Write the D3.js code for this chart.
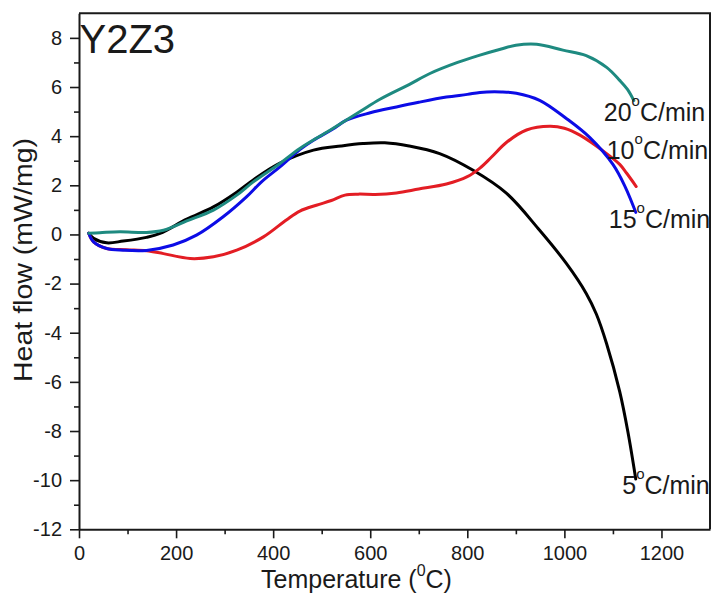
<!DOCTYPE html>
<html>
<head>
<meta charset="utf-8">
<script src="https://cdn.jsdelivr.net/npm/d3@7"></script>
<style>
  body { margin: 0; background: #fff; }
  svg { display: block; }
  text { font-family: "Liberation Sans", Arial, Helvetica, sans-serif; fill: #1a1a1a; }
</style>
</head>
<body>
<svg id="chart" width="712" height="597"></svg>
<script>
// DSC heat flow of Y2Z3 at four heating rates: [temperature °C, heat flow mW/mg]
const heat5 = [
  [20, 0.05], [30, -0.16], [57, -0.34], [91, -0.27], [139, -0.12], [167, 0.04],
  [222, 0.62], [277, 1.12], [325, 1.72], [359, 2.22], [414, 2.9], [483, 3.43],
  [540, 3.6], [585, 3.7], [630, 3.73], [680, 3.6], [743, 3.29], [812, 2.61],
  [881, 1.67], [949, 0.17], [1004, -1.18], [1045, -2.4], [1066, -3.25],
  [1087, -4.45], [1114, -6.4], [1131, -8.05], [1147, -9.95]
];
const heat10 = [
  [20, 0.05], [30, -0.3], [57, -0.57], [98, -0.62], [139, -0.66], [174, -0.78],
  [229, -0.98], [277, -0.91], [325, -0.64], [380, -0.1], [428, 0.6], [455, 0.95],
  [489, 1.19], [520, 1.38], [548, 1.6], [575, 1.64], [610, 1.63], [654, 1.69],
  [700, 1.85], [757, 2.05], [800, 2.35], [826, 2.7], [850, 3.15], [881, 3.75],
  [922, 4.25], [970, 4.4], [1000, 4.32], [1032, 4.04], [1087, 3.29], [1114, 2.85],
  [1128, 2.5], [1148, 1.95]
];
const heat15 = [
  [20, 0.05], [30, -0.3], [57, -0.57], [91, -0.64], [139, -0.65], [194, -0.43],
  [242, -0.03], [297, 0.72], [345, 1.53], [376, 2.14], [414, 2.75], [455, 3.45],
  [483, 3.83], [524, 4.3], [551, 4.65], [600, 4.95], [654, 5.19], [700, 5.38],
  [757, 5.59], [800, 5.7], [826, 5.78], [870, 5.8], [901, 5.75], [949, 5.46],
  [1004, 4.72], [1052, 3.95], [1100, 2.85], [1125, 1.95], [1147, 0.9]
];
const heat20 = [
  [20, 0.05], [43, 0.07], [84, 0.11], [139, 0.08], [174, 0.17], [222, 0.55],
  [277, 0.99], [325, 1.6], [359, 2.14], [414, 2.89], [455, 3.5], [517, 4.24],
  [579, 5.0], [620, 5.5], [680, 6.1], [723, 6.55], [780, 7.0], [826, 7.3],
  [870, 7.55], [900, 7.7], [943, 7.74], [997, 7.5], [1045, 7.28], [1087, 6.8],
  [1114, 6.27], [1130, 5.9], [1143, 5.45]
];

const rateLabels = ["5", "10", "15", "20"];
const xMajorTicks = [0, 200, 400, 600, 800, 1000, 1200];
const xMinorTicks = [100, 300, 500, 700, 900, 1100];
const yMajorTicks = [-12, -10, -8, -6, -4, -2, 0, 2, 4, 6, 8];
const yMinorTicks = [-11, -9, -7, -5, -3, -1, 1, 3, 5, 7];

// drawing order and per-curve styling; label offsets are relative to the curve end
const series = [
  { rate: rateLabels[0], data: heat5,  color: "#000000", dx: -13.5, dy: 15 },
  { rate: rateLabels[1], data: heat10, color: "#e31d24", dx: -29.5, dy: -28 },
  { rate: rateLabels[2], data: heat15, color: "#0c0ce6", dx: -27,   dy: 16 },
  { rate: rateLabels[3], data: heat20, color: "#1e8a80", dx: -30,   dy: 20 }
];

const svg = d3.select("#chart");
const x = d3.scaleLinear().domain([0, 1300]).range([79, 710]);
const y = d3.scaleLinear().domain([-12, 9]).range([529.3, 13.3]);
const fmt = d => String(d);

svg.append("defs").append("clipPath").attr("id", "plotClip")
  .append("rect")
  .attr("x", x(0)).attr("y", y(9))
  .attr("width", x(1300) - x(0)).attr("height", y(-12) - y(9));

// minor ticks
svg.append("g").attr("transform", `translate(0,${y(-12)})`)
  .call(d3.axisBottom(x).tickValues(xMinorTicks).tickSize(5).tickSizeOuter(0).tickFormat(""))
  .call(g => g.select(".domain").remove())
  .call(g => g.selectAll("line").attr("stroke", "#1a1a1a").attr("stroke-width", 1.6));
svg.append("g").attr("transform", `translate(${x(0)},0)`)
  .call(d3.axisLeft(y).tickValues(yMinorTicks).tickSize(5).tickSizeOuter(0).tickFormat(""))
  .call(g => g.select(".domain").remove())
  .call(g => g.selectAll("line").attr("stroke", "#1a1a1a").attr("stroke-width", 1.6));

// major axes
const styleAxis = g => {
  g.attr("font-size", 20).attr("font-family", null);
  g.select(".domain").attr("stroke", "#1a1a1a").attr("stroke-width", 2);
  g.selectAll(".tick line").attr("stroke", "#1a1a1a").attr("stroke-width", 1.6);
  g.selectAll(".tick text").attr("fill", "#1a1a1a");
};
svg.append("g").attr("transform", `translate(0,${y(-12)})`)
  .call(d3.axisBottom(x).tickValues(xMajorTicks).tickSize(9).tickPadding(8).tickSizeOuter(0).tickFormat(fmt))
  .call(styleAxis);
svg.append("g").attr("transform", `translate(${x(0)},0)`)
  .call(d3.axisLeft(y).tickValues(yMajorTicks).tickSize(9).tickPadding(8).tickSizeOuter(0).tickFormat(fmt))
  .call(styleAxis);

// top and right frame
svg.append("path")
  .attr("d", `M${x(0)},${y(9)}H${x(1300)}V${y(-12)}`)
  .attr("fill", "none").attr("stroke", "#1a1a1a").attr("stroke-width", 2);

// curves
const line = d3.line()
  .x(d => x(d[0])).y(d => y(d[1]))
  .curve(d3.curveCatmullRom.alpha(0.5));

const plot = svg.append("g").attr("clip-path", "url(#plotClip)");
plot.selectAll("path.curve").data(series).join("path")
  .attr("class", "curve")
  .attr("d", d => line(d.data))
  .attr("fill", "none")
  .attr("stroke", d => d.color)
  .attr("stroke-width", 3)
  .attr("stroke-linecap", "round")
  .attr("stroke-linejoin", "round");

// heating-rate labels next to each curve end
const lbl = plot.selectAll("text.rate").data(series).join("text")
  .attr("class", "rate")
  .attr("font-size", 25)
  .attr("x", d => x(d.data[d.data.length - 1][0]) + d.dx)
  .attr("y", d => y(d.data[d.data.length - 1][1]) + d.dy);
lbl.append("tspan").text(d => d.rate);
lbl.append("tspan").attr("font-size", 15).attr("dy", -15).text("o");
lbl.append("tspan").attr("dy", 15).text("C/min");

// sample name
svg.append("text").attr("x", x(0) + 0.5).attr("y", 53)
  .attr("font-size", 40).text("Y2Z3");

// axis titles
const xt = svg.append("text")
  .attr("x", (x(0) + x(1300)) / 2 - 38).attr("y", 588)
  .attr("font-size", 25).attr("text-anchor", "middle");
xt.append("tspan").text("Temperature (");
xt.append("tspan").attr("font-size", 16).attr("dy", -12).text("0");
xt.append("tspan").attr("dy", 12).text("C)");

svg.append("text")
  .attr("transform", "translate(31.5,260) rotate(-90)")
  .attr("font-size", 26)
  .attr("text-anchor", "middle")
  .attr("textLength", 244)
  .attr("lengthAdjust", "spacingAndGlyphs")
  .text("Heat flow (mW/mg)");
</script>
</body>
</html>
